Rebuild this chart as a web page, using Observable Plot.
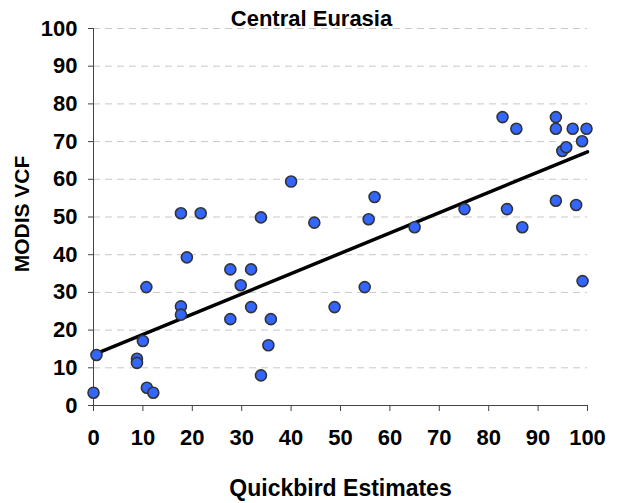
<!DOCTYPE html>
<html>
<head>
<meta charset="utf-8">
<script src="https://cdn.jsdelivr.net/npm/d3@7"></script>
<script src="https://cdn.jsdelivr.net/npm/@observablehq/plot@0.6"></script>
<style>
  html, body { margin: 0; padding: 0; background: #fff; }
  svg { font-family: "Liberation Sans", Arial, Helvetica, sans-serif; }
</style>
</head>
<body>
<div id="chart"></div>
<script>
const title = "Central Eurasia";
const xLabel = "Quickbird Estimates";
const yLabel = "MODIS VCF";
const xTicks = [0, 10, 20, 30, 40, 50, 60, 70, 80, 90, 100];
const yTicks = [0, 10, 20, 30, 40, 50, 60, 70, 80, 90, 100];

const quickbird = [0, 0.6, 8.8, 8.8, 10, 10.7, 10.8, 12.1, 17.7, 17.7, 17.7, 18.9, 21.7, 27.7, 27.7, 29.8, 31.9, 31.9, 33.9, 33.9, 35.4, 35.9, 40.0, 44.7, 48.8, 54.9, 55.7, 56.9, 65.0, 75.1, 82.8, 83.7, 85.6, 86.8, 93.6, 93.6, 93.6, 94.9, 95.7, 97.0, 97.7, 98.9, 99.8, 99.0];
const modis = [3.4, 13.4, 12.4, 11.3, 17.1, 31.4, 4.7, 3.4, 26.3, 24.1, 51.0, 39.3, 51.0, 36.1, 22.9, 31.9, 36.1, 26.1, 49.9, 8.0, 16.0, 22.9, 59.4, 48.5, 26.1, 31.4, 49.4, 55.3, 47.3, 52.1, 76.5, 52.1, 73.4, 47.3, 76.5, 73.4, 54.3, 67.5, 68.5, 73.4, 53.2, 70.1, 73.4, 33.0];

// linear trend line (as drawn in the reference)
const trendX = [0.3, 100];
const trendY = [13.6, 67.3];

const data = quickbird.map((x, i) => ({x, y: modis[i]}));
const trend = trendX.map((x, i) => ({x, y: trendY[i]}));

const bold = {fontWeight: "bold", fill: "#000"};

const chart = Plot.plot({
  width: 621,
  height: 503,
  marginLeft: 93,
  marginRight: 34,
  marginTop: 28,
  marginBottom: 98,
  style: {fontFamily: "'Liberation Sans', Arial, sans-serif", background: "#fff", overflow: "visible"},
  x: {domain: [0, 100]},
  y: {domain: [0, 100]},
  marks: [
    Plot.gridY(yTicks.slice(1), {stroke: "#c8c8c8", strokeOpacity: 1, strokeDasharray: "7,5", strokeWidth: 1}),
    Plot.ruleX([0], {stroke: "#444", strokeWidth: 1}),
    Plot.ruleY([0], {stroke: "#444", strokeWidth: 1}),
    Plot.axisY({ticks: yTicks, tickSize: 5, tickPadding: 11, stroke: "#444", fontSize: 22, fontWeight: "bold", fill: "#000", label: null, style: {letterSpacing: "0.8px"}}),
    Plot.axisX({ticks: xTicks, tickSize: 6, tickPadding: 18, stroke: "#444", fontSize: 22, fontWeight: "bold", fill: "#000", label: null, style: {letterSpacing: "0.5px"}}),
    Plot.line(trend, {x: "x", y: "y", stroke: "#000", strokeWidth: 3.5}),
    Plot.dot(data, {x: "x", y: "y", r: 5.5, fill: "#3366ff", stroke: "#333", strokeWidth: 1.6}),
    Plot.text([title], {frameAnchor: "top", lineAnchor: "bottom", textAnchor: "middle", dx: -29, dy: -3, fontSize: 22, ...bold, style: {letterSpacing: "1.8px"}}),
    Plot.text([xLabel], {frameAnchor: "bottom", lineAnchor: "bottom", textAnchor: "middle", dy: 90, fontSize: 23, ...bold, style: {letterSpacing: "1.2px"}}),
    Plot.text([yLabel], {frameAnchor: "left", rotate: -90, textAnchor: "middle", dx: -71, dy: -3, fontSize: 21, ...bold, style: {letterSpacing: "3px"}})
  ]
});
document.getElementById("chart").appendChild(chart);
</script>
</body>
</html>
